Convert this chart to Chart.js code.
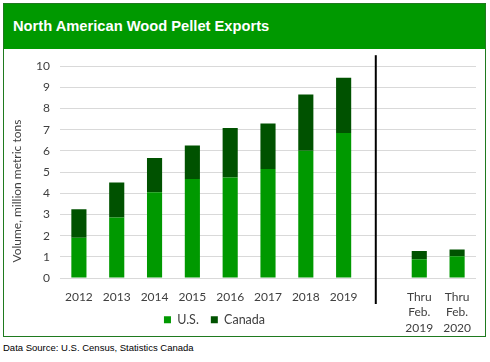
<!DOCTYPE html>
<html>
<head>
<meta charset="utf-8">
<script src="https://cdn.jsdelivr.net/npm/chart.js@4"></script>
<style>
  body { margin: 0; background: #fff; width: 490px; height: 362px; position: relative; font-family: "Liberation Sans", Arial, sans-serif; }
  #box { position: absolute; left: 3px; top: 3px; width: 481px; height: 332px; border: 1px solid #1f7a1f; }
  #head { height: 45px; background: #009900; color: #fff; font-weight: bold; font-size: 14.7px; line-height: 45px; padding-left: 9px; }
  #wrap { position: relative; width: 481px; height: 287px; }
  #source { position: absolute; left: 3px; top: 342px; font-size: 9.5px; color: #000; }
</style>
</head>
<body>
<div id="box">
  <div id="head">North American Wood Pellet Exports</div>
  <div id="wrap"><canvas id="chart"></canvas></div>
</div>
<div id="source">Data Source: U.S. Census, Statistics Canada</div>
<script>
const categories = ['2012', '2013', '2014', '2015', '2016', '2017', '2018', '2019', '',
    ['Thru', 'Feb.', '2019'], ['Thru', 'Feb.', '2020']];
const usValues = [1.90, 2.86, 4.05, 4.67, 4.74, 5.15, 6.01, 6.85, null, 0.88, 1.03];
const canadaValues = [1.35, 1.65, 1.61, 1.59, 2.34, 2.15, 2.65, 2.61, null, 0.40, 0.32];
const yTitle = 'Volume, million metric tons';

const tickFont = { family: 'Lato', size: 12, lineHeight: 1.3 };
const tickColor = '#404040';

// legend placement, vertical divider and the y title
const extras = {
    id: 'extras',
    beforeLayout(chart) {
        // legend takes no room of its own: it shares the strip under the x labels
        const lg = chart.legend;
        if (lg && !lg._noRoom) {
            const fit = lg.fit;
            lg.fit = function () {
                fit.call(this);
                this._realHeight = this.height;
                this.height = 0;
            };
            lg._noRoom = true;
        }
    },
    afterLayout(chart) {
        const lg = chart.legend;
        const shift = -30;
        lg.height = lg._realHeight;
        lg.top = chart.height - lg.height;
        lg.bottom = chart.height;
        lg.left = shift;
        lg.right = chart.width + shift;
    },
    afterDatasetsDraw(chart) {
        const ctx = chart.ctx;
        const x = chart.scales.x;
        const area = chart.chartArea;
        const p7 = x.getPixelForValue(7);
        const p8 = x.getPixelForValue(8);
        const lx = p7 + (p8 - p7) * 0.85;
        ctx.save();
        ctx.strokeStyle = '#000';
        ctx.lineWidth = 2;
        ctx.beginPath();
        ctx.moveTo(lx, area.top - 11);
        ctx.lineTo(lx, area.bottom + 26);
        ctx.stroke();

        ctx.translate(13, (area.top + area.bottom) / 2 + 19);
        ctx.rotate(-Math.PI / 2);
        ctx.fillStyle = tickColor;
        ctx.font = '12px Lato';
        ctx.textAlign = 'center';
        ctx.textBaseline = 'middle';
        ctx.fillText(yTitle, 0, 0);
        ctx.restore();
    }
};

new Chart(document.getElementById('chart'), {
    type: 'bar',
    data: {
        labels: categories,
        datasets: [{
            label: 'U.S.',
            data: usValues,
            backgroundColor: '#009900',
        }, {
            label: 'Canada',
            data: canadaValues,
            backgroundColor: '#005200',
        }],
    },
    options: {
        responsive: true,
        maintainAspectRatio: false,
        animation: false,
        categoryPercentage: 1,
        barPercentage: 0.4,
        layout: {
            padding: { top: 14, right: 9, left: 0, bottom: 0 },
        },
        plugins: {
            legend: {
                position: 'bottom',
                labels: {
                    boxWidth: 7,
                    boxHeight: 7,
                    padding: 12,
                    color: tickColor,
                    font: { family: 'Lato', size: 12.5 },
                },
            },
            tooltip: { enabled: false },
        },
        scales: {
            x: {
                stacked: true,
                grid: { display: false },
                border: { display: false },
                ticks: { color: tickColor, font: tickFont, padding: 3, maxRotation: 0, autoSkip: false },
                afterFit: (s) => { s.height = 58; },
            },
            y: {
                stacked: true,
                min: 0,
                max: 10,
                grid: { color: '#d9d9d9', drawTicks: false },
                border: { display: false },
                ticks: { stepSize: 1, color: tickColor, font: { family: 'Lato', size: 12 }, padding: 10 },
                afterFit: (s) => { s.width = 56; },
            },
        },
    },
    plugins: [extras],
});
</script>
</body>
</html>
